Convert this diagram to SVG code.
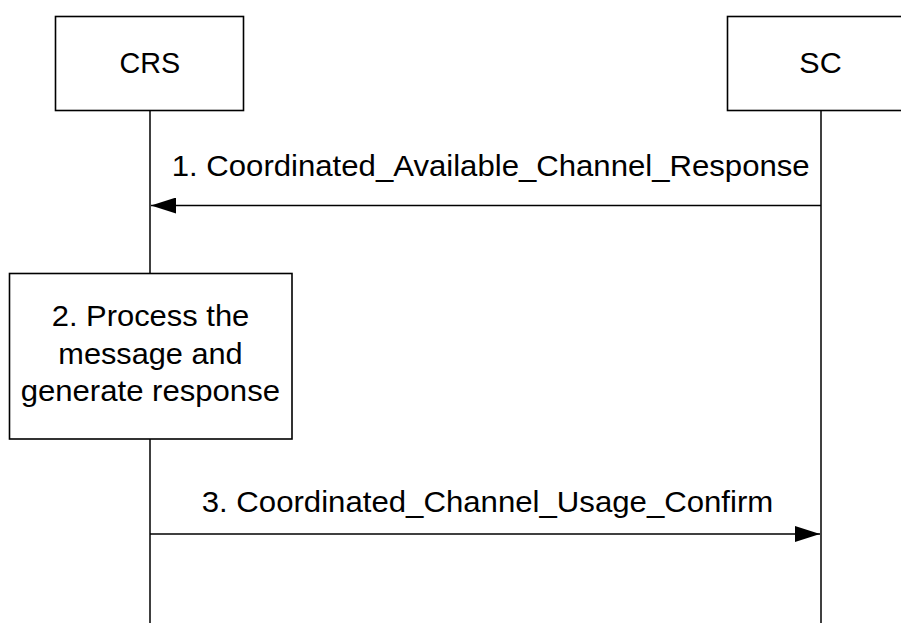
<svg xmlns="http://www.w3.org/2000/svg" width="901" height="623" viewBox="0 0 901 623">
<style>
.box{fill:#fff;stroke:#000;stroke-width:1.6}
.life{stroke:#000;stroke-width:1.5;fill:none}
.msg{stroke:#000;stroke-width:1.5;fill:none;marker-end:url(#ah)}
text{font-family:"Liberation Sans",Arial,sans-serif;font-size:29px;fill:#000}
</style>
<defs>
<marker id="ah" viewBox="0 0 25 16" refX="25" refY="8" markerWidth="25" markerHeight="16" markerUnits="userSpaceOnUse" orient="auto">
<path d="M0,0 L25,8 L0,16 Z" fill="#000"/>
</marker>
</defs>
<rect width="901" height="623" fill="#fff"/>
<g id="connectors">
<line class="life" x1="150" y1="110" x2="150" y2="273"/>
<line class="life" x1="150" y1="439" x2="150" y2="623"/>
<line class="life" x1="821" y1="110" x2="821" y2="623"/>
<line class="msg" x1="821" y1="205.5" x2="151" y2="205.5"/>
<text x="171.7" y="176" textLength="638" lengthAdjust="spacingAndGlyphs">1. Coordinated_Available_Channel_Response</text>
<line class="msg" x1="150" y1="534" x2="820" y2="534"/>
<text x="201.7" y="512" textLength="571.6" lengthAdjust="spacingAndGlyphs">3. Coordinated_Channel_Usage_Confirm</text>
</g>
<g id="crs">
<rect class="box" x="55.5" y="16.5" width="188" height="94"/>
<text x="119.5" y="72.7" textLength="60.7" lengthAdjust="spacingAndGlyphs">CRS</text>
</g>
<g id="sc">
<rect class="box" x="727.5" y="16.5" width="180" height="94"/>
<text x="799.3" y="72.7" textLength="42.4" lengthAdjust="spacingAndGlyphs">SC</text>
</g>
<g id="process">
<rect class="box" x="9.5" y="273.5" width="282.5" height="165.5"/>
<text x="51.7" y="326" textLength="197.6" lengthAdjust="spacingAndGlyphs">2. Process the</text>
<text x="58.3" y="364" textLength="184.4" lengthAdjust="spacingAndGlyphs">message and</text>
<text x="20.7" y="401" textLength="259.3" lengthAdjust="spacingAndGlyphs">generate response</text>
</g>
</svg>
